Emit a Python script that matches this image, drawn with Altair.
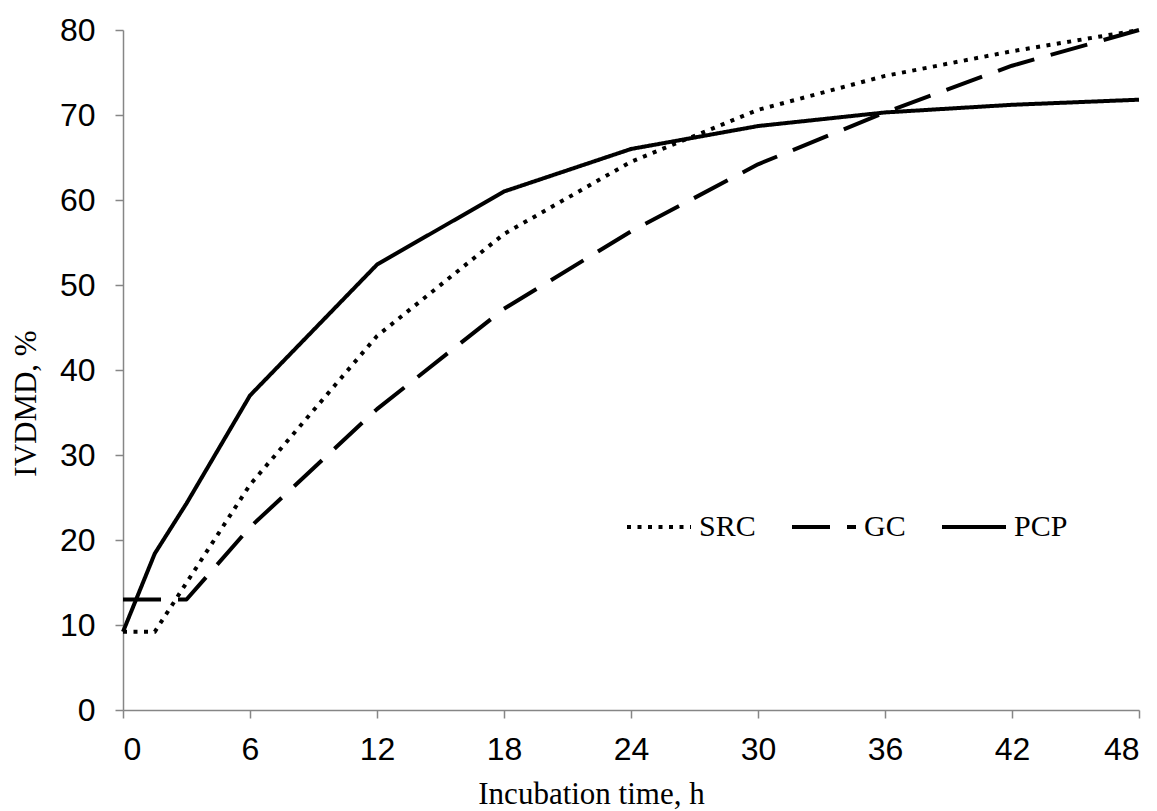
import altair as alt
import pandas as pd

# Data
src_hours = [0, 1.5, 6, 12, 18, 24, 30, 36, 42, 48]
src_values = [9.2, 9.2, 26.5, 44.0, 56.0, 64.5, 70.6, 74.6, 77.5, 80.0]

gc_hours = [0, 1.5, 3, 6, 12, 18, 24, 30, 36, 42, 48]
gc_values = [13.0, 13.0, 13.0, 21.5, 35.4, 47.2, 56.3, 64.2, 70.3, 75.8, 80.0]

pcp_hours = [0, 1.5, 3, 6, 12, 18, 24, 30, 36, 42, 48]
pcp_values = [9.2, 18.4, 24.3, 37.0, 52.4, 61.0, 66.0, 68.7, 70.3, 71.2, 71.8]

series_names = ["SRC", "GC", "PCP"]
x_ticks = [0, 6, 12, 18, 24, 30, 36, 42, 48]
y_ticks = [0, 10, 20, 30, 40, 50, 60, 70, 80]

rows = []
for name, hs, vs in zip(series_names,
                        [src_hours, gc_hours, pcp_hours],
                        [src_values, gc_values, pcp_values]):
    for h, v in zip(hs, vs):
        rows.append({"series": name, "hours": h, "value": v})
df = pd.DataFrame(rows)

chart = alt.Chart(df).mark_line(
    color="black", strokeWidth=4, strokeCap="butt", strokeJoin="round"
).encode(
    x=alt.X("hours:Q",
            scale=alt.Scale(domain=[0, 48], nice=False, zero=False),
            axis=alt.Axis(values=x_ticks, title="Incubation time, h",
                          titleX=468, titleY=93,
                          titleBaseline="alphabetic",
                          labelPadding=16)),
    y=alt.Y("value:Q",
            scale=alt.Scale(domain=[0, 80], nice=False),
            axis=alt.Axis(values=y_ticks, title="IVDMD, %",
                          titleX=-88, titleY=373, titleAngle=-90,
                          titleBaseline="alphabetic", titleAlign="center",
                          labelPadding=20)),
    strokeDash=alt.StrokeDash(
        "series:N",
        scale=alt.Scale(domain=series_names,
                        range=[[4, 6.5], [38, 17], [1, 0]]),
        legend=alt.Legend(
            title=None, orient="none", direction="horizontal",
            legendX=502, legendY=463,
            symbolType="stroke", symbolSize=4096,
            symbolStrokeWidth=4, symbolStrokeColor="black",
            labelFont="Liberation Serif", labelFontSize=30,
            labelColor="black", labelOffset=6,
            columnPadding=28, padding=0,
        ),
    ),
    detail="series:N",
).properties(
    width=1016, height=680,
    padding={"left": 115, "top": 22, "right": 10, "bottom": 101},
    autosize=alt.AutoSizeParams(type="none"),
).configure_view(
    stroke=None
).configure_axis(
    grid=False,
    domainColor="#868686", domainWidth=1.5,
    tickColor="#868686", tickWidth=1.5, tickSize=8,
    labelFont="Liberation Sans", labelFontSize=32, labelColor="black",
    titleFont="Liberation Serif", titleFontSize=31, titleColor="black",
    titleFontWeight="normal",
)

chart.save("out.html", embed_options={"renderer": "svg", "actions": False})
